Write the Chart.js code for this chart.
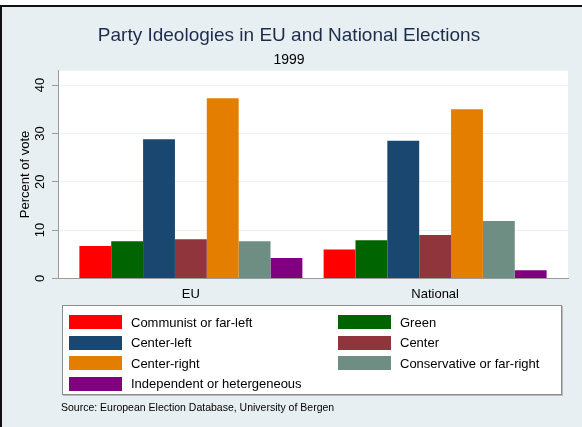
<!DOCTYPE html>
<html>
<head>
<meta charset="utf-8">
<script src="https://cdn.jsdelivr.net/npm/chart.js@4/dist/chart.umd.min.js"></script>
<style>
  html, body { margin: 0; padding: 0; background: #fff; }
  body { width: 582px; height: 427px; position: relative; overflow: hidden; font-family: "Liberation Sans", Arial, sans-serif; }
  #bg { position: absolute; left: 0; top: 5px; width: 582px; height: 422px; background: #e8eff2;
        border-top: 2px solid #111; border-left: 2px solid #111; box-sizing: border-box; }
  #wrap { position: absolute; left: 0; top: 0; width: 582px; height: 427px; }
  #legend { position: absolute; left: 62px; top: 305px; width: 500px; height: 90px; background: #fff;
            border: 1px solid #8c8c8c; box-shadow: 1px 1px 0 #b8b8b8; box-sizing: border-box;
            display: grid; grid-template-columns: 269px 220px; grid-auto-rows: 20.5px; padding: 6px 0 0 6px; }
  .item { display: flex; align-items: center; font-size: 13px; color: #000; }
  .sw { width: 53px; height: 14px; margin-right: 9px; box-sizing: border-box; }
  #source { position: absolute; left: 61px; top: 401px; font-size: 10.5px; color: #000; }
</style>
</head>
<body>
<div id="bg"></div>
<div id="wrap"><canvas id="chart" width="582" height="427"></canvas></div>
<div id="legend"></div>
<div id="source">Source: European Election Database, University of Bergen</div>
<script>
const categories = ["EU", "National"];
const seriesNames = ["Communist or far-left", "Green", "Center-left", "Center", "Center-right", "Conservative or far-right", "Independent or hetergeneous"];
const seriesColors = ["#ff0000", "#006400", "#1a476f", "#90353b", "#e37e00", "#6e8e84", "#800080"];
const communist = [6.7, 6.0];
const green = [7.7, 7.9];
const centerLeft = [28.8, 28.5];
const center = [8.1, 9.0];
const centerRight = [37.3, 35.0];
const conservative = [7.7, 11.9];
const independent = [4.2, 1.7];
const yTicks = [0, 10, 20, 30, 40];

const seriesValues = [communist, green, centerLeft, center, centerRight, conservative, independent];

// categories sit at x = 0, 1 on a numeric axis so the outer gaps equal the gap between groups
const datasets = seriesNames.map((name, i) => ({
    label: name,
    data: seriesValues[i].map((v, k) => ({ x: k, y: v })),
    backgroundColor: seriesColors[i],
    borderWidth: 0,
    categoryPercentage: 0.913,
    barPercentage: 1.0
}));

// white plot region behind the bars
const plotBackground = {
    id: "plotBackground",
    beforeDraw(chart) {
        const { ctx, chartArea: a } = chart;
        ctx.save();
        ctx.fillStyle = "#fff";
        ctx.fillRect(a.left, a.top, a.right - a.left, a.bottom - a.top);
        ctx.restore();
    }
};

const ctx = document.getElementById("chart").getContext("2d");
new Chart(ctx, {
    type: "bar",
    data: { datasets: datasets },
    plugins: [plotBackground],
    options: {
        responsive: false,
        animation: false,
        layout: { padding: { top: 0, left: 10, right: 14, bottom: 117 } },
        plugins: {
            legend: { display: false },
            tooltip: { enabled: false },
            title: {
                display: true,
                text: "Party Ideologies in EU and National Elections",
                color: "#1c2c4c",
                font: { family: "Liberation Sans, Arial", size: 19, weight: "normal" },
                padding: { top: 24, bottom: 4 }
            },
            subtitle: {
                display: true,
                text: "1999",
                color: "#000",
                font: { family: "Liberation Sans, Arial", size: 14, weight: "normal" },
                padding: { top: 1, bottom: 2 }
            }
        },
        scales: {
            x: {
                type: "linear",
                min: -0.544,
                max: 1.544,
                offset: false,
                afterBuildTicks: (scale) => { scale.ticks = categories.map((c, k) => ({ value: k })); },
                grid: { display: false, drawTicks: false },
                border: { display: true, color: "#9a9a9a", width: 1 },
                ticks: {
                    color: "#000",
                    font: { family: "Liberation Sans, Arial", size: 13 },
                    padding: 8,
                    maxRotation: 0,
                    callback: (v) => categories[v]
                }
            },
            y: {
                min: 0,
                max: 43,
                afterBuildTicks: (scale) => { scale.ticks = yTicks.map(v => ({ value: v })); },
                afterFit: (scale) => { scale.width = 48; },
                grid: {
                    color: (c) => c.tick && c.tick.value === 0 ? "rgba(0,0,0,0)" : "#eaf1f2",
                    tickColor: "#9a9a9a",
                    tickLength: 6,
                    lineWidth: 1
                },
                border: { display: true, color: "#9a9a9a", width: 1 },
                ticks: {
                    color: "#000",
                    font: { family: "Liberation Sans, Arial", size: 13 },
                    minRotation: 90,
                    maxRotation: 90,
                    crossAlign: "center",
                    padding: 4
                },
                title: {
                    display: true,
                    text: "Percent of vote",
                    color: "#000",
                    font: { family: "Liberation Sans, Arial", size: 13 },
                    padding: { top: 8, bottom: 0 }
                }
            }
        }
    }
});

// legend built from the series names and colours
const legend = document.getElementById("legend");
seriesNames.forEach((name, i) => {
    const item = document.createElement("div");
    item.className = "item";
    const sw = document.createElement("span");
    sw.className = "sw";
    sw.style.background = seriesColors[i];
    const label = document.createElement("span");
    label.textContent = name;
    item.appendChild(sw);
    item.appendChild(label);
    legend.appendChild(item);
});
</script>
</body>
</html>
